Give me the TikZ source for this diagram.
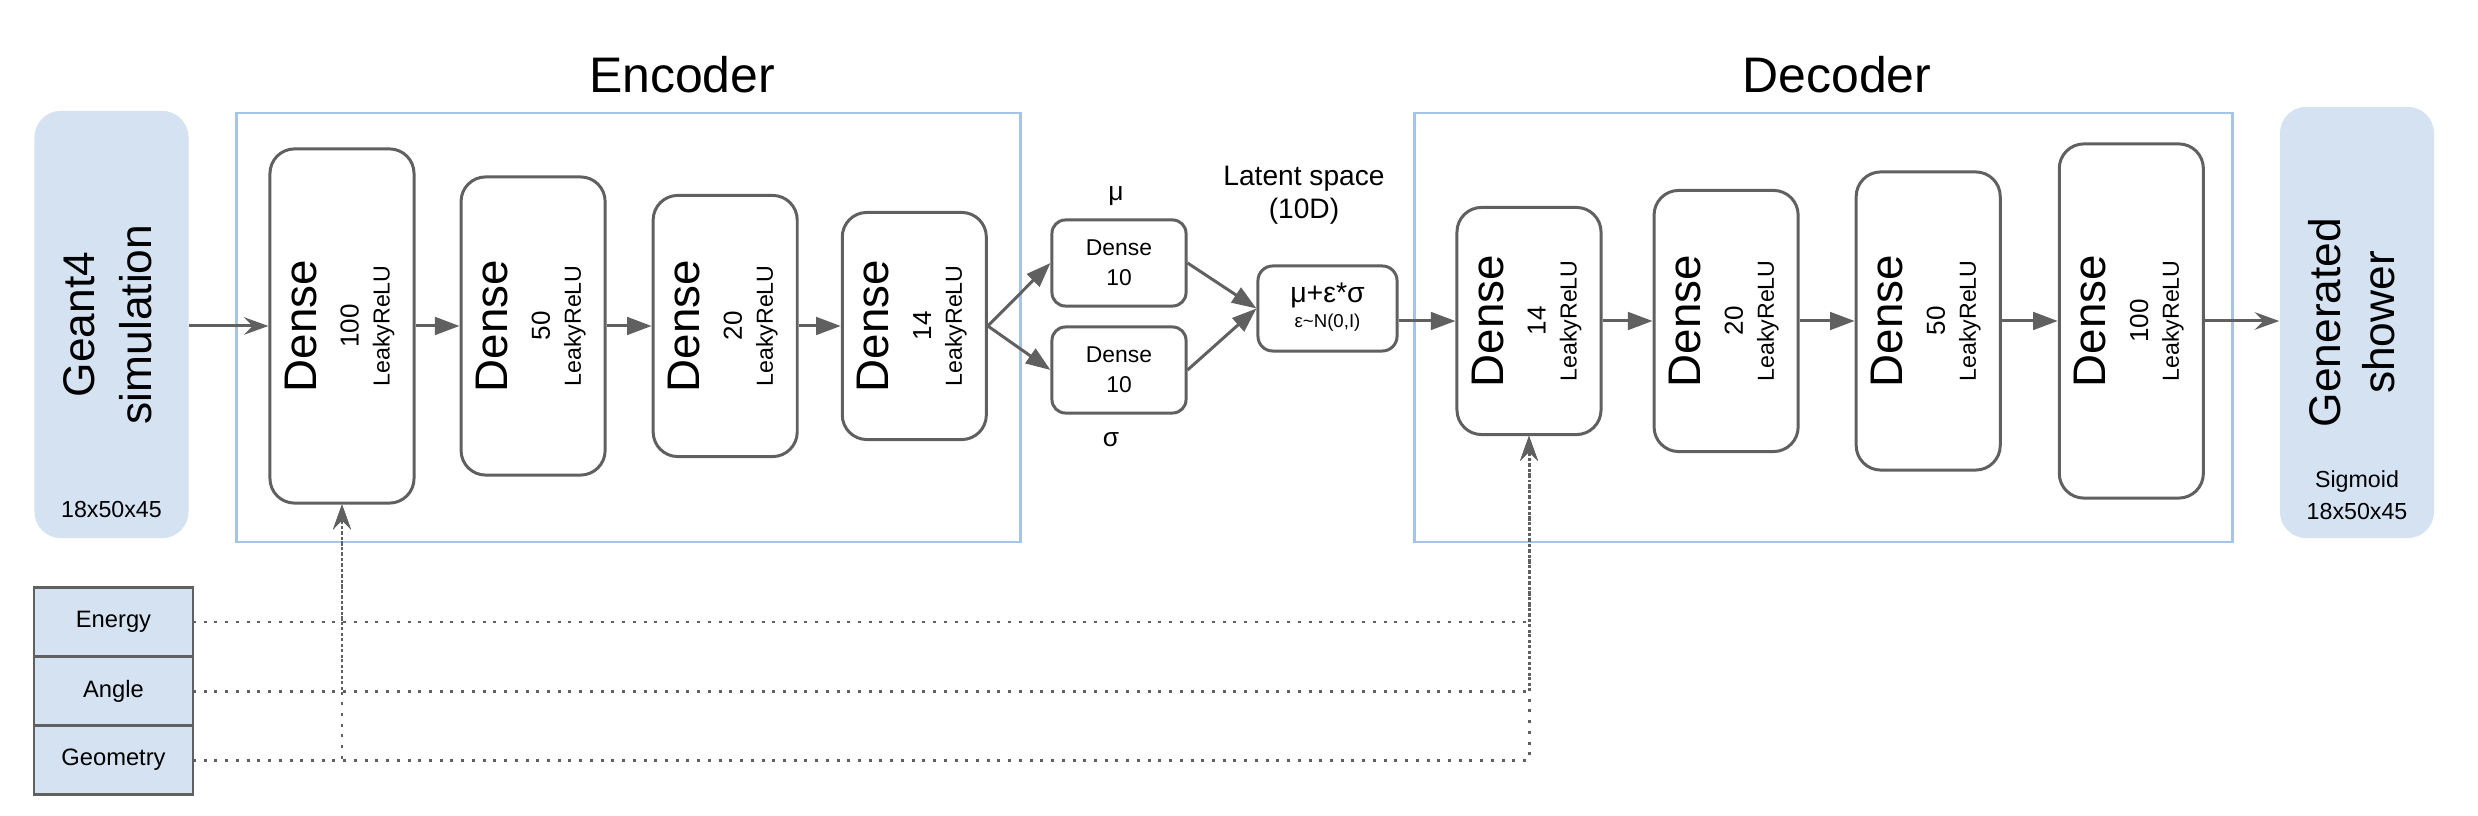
\documentclass[tikz,border=0pt]{standalone}
\usepackage{fontspec}
\setmainfont{Liberation Sans}
\usetikzlibrary{positioning,arrows.meta}

\definecolor{boxblue}{RGB}{212,226,241}
\definecolor{frameblue}{RGB}{166,196,230}
\definecolor{linegray}{RGB}{96,96,96}

% rotated text of one dense layer
\newcommand{\denselayer}[1]{\rotatebox{90}{\fontsize{7.4}{8.8}\selectfont
  \begin{tabular}{@{}c@{}}{\fontsize{13}{14}\selectfont Dense}\\[3.2pt]
  #1\\{\fontsize{6.6}{8}\selectfont LeakyReLU}\end{tabular}}}
\newcommand{\sidetext}[2]{\rotatebox{90}{\begin{tabular}{@{}c@{}}#1\\#2\end{tabular}}}

\begin{document}
\begin{tikzpicture}[x=0.01cm, y=-0.01cm,
  font=\fontsize{6.6}{8}\selectfont,
  layer/.style={rectangle, rounded corners=7pt, draw=linegray, line width=0.85pt,
                minimum width=1.44cm, inner sep=0pt, fill=white},
  small/.style={layer, rounded corners=3.8pt, minimum width=1.34cm, minimum height=0.86cm,
                align=center, font=\fontsize{6.5}{8.5}\selectfont},
  io/.style={rectangle, rounded corners=7.5pt, fill=boxblue, minimum width=1.54cm,
             inner sep=0pt, font=\fontsize{12.6}{16.2}\selectfont},
  cond/.style={rectangle, fill=boxblue, draw=linegray, line width=0.8pt, minimum width=1.59cm,
               minimum height=0.69cm, inner sep=0pt, outer sep=0pt, font=\fontsize{6.75}{8}\selectfont},
  frame/.style={rectangle, draw=frameblue, line width=0.75pt, minimum height=4.29cm, inner sep=0pt},
  title/.style={anchor=base, font=\fontsize{14.2}{17}\selectfont},
  flow/.style={-{Triangle[length=7pt,width=5pt]}, draw=linegray, line width=0.85pt},
  feed/.style={-{Stealth[length=7pt,width=5pt,inset=2.5pt]}, draw=linegray, line width=0.85pt},
  cnd/.style={-{Stealth[length=7pt,width=5pt,inset=2.5pt]}, draw=linegray, line width=0.85pt,
              dash pattern=on 0.85pt off 2.2pt}
]
\useasboundingbox (0,0) rectangle (2478,816);

% frames and titles
\node[frame, minimum width=7.83cm] (encf) at (628.5,327.5) {};
\node[frame, minimum width=8.17cm] (decf) at (1823.5,327.5) {};
\node[title] (enct) at (682,93) {Encoder};
\node[title] (dect) at (1837,93) {Decoder};

% input
\node[io, minimum height=4.27cm] (g4) at (111.5,324.5) {\sidetext{Geant4}{simulation}};
\node (g4dim) at (111.5,510) {18x50x45};

% encoder
\node[layer, minimum height=3.54cm] (e1) at (342,326) {\denselayer{100}};
\node[layer, minimum height=2.98cm, right=0.44cm of e1] (e2) {\denselayer{50}};
\node[layer, minimum height=2.61cm, right=0.45cm of e2] (e3) {\denselayer{20}};
\node[layer, minimum height=2.27cm, right=0.42cm of e3] (e4) {\denselayer{14}};

% latent space
\node[small] (mu) at (1119,263) {Dense\\10};
\node[small] (sg) at (1119,370) {Dense\\10};
\node[anchor=base, font=\fontsize{7.5}{9}\selectfont] (mul) at (1116,201) {μ};
\node[anchor=base, font=\fontsize{7.5}{9}\selectfont] (sgl) at (1111,447) {σ};
\node[align=center, font=\fontsize{8}{9.4}\selectfont] (lat) at (1304,195) {Latent space\\(10D)};
\node[small, minimum width=1.39cm, minimum height=0.85cm, rounded corners=4.2pt,
      font=\fontsize{5.3}{7.1}\selectfont] (rp) at (1327.5,308.5)
  {\begin{tabular}{@{}c@{}}{\fontsize{8.1}{9}\selectfont μ+ε*σ}\\ε\textasciitilde N(0,I)\end{tabular}};

% decoder
\node[layer, minimum height=2.27cm] (d1) at (1529,321) {\denselayer{14}};
\node[layer, minimum height=2.61cm, right=0.50cm of d1] (d2) {\denselayer{20}};
\node[layer, minimum height=2.98cm, right=0.55cm of d2] (d3) {\denselayer{50}};
\node[layer, minimum height=3.54cm, right=0.56cm of d3] (d4) {\denselayer{100}};

% output
\node[io, minimum height=4.31cm, font=\fontsize{12.6}{15.4}\selectfont] (gs) at (2357,322.5)
  {\sidetext{Generated}{shower}};
\node[align=center, font=\fontsize{6.6}{9.1}\selectfont] (gsdim) at (2357,495) {Sigmoid\\18x50x45};

% conditions
\node[cond] (en) at (113.5,622) {Energy};
\node[cond, below=0pt of en] (an) {Angle};
\node[cond, below=0pt of an] (ge) {Geometry};

% connectors
\draw[feed] (g4.east |- e1) -- (e1);
\draw[flow] (e1) -- (e2);
\draw[flow] (e2) -- (e3);
\draw[flow] (e3) -- (e4);
\draw[flow] (e4.east) -- (mu.west);
\draw[flow] (e4.east) -- (sg.west);
\draw[flow] (mu.east) -- (rp.west);
\draw[flow] (sg.east) -- (rp.west);
\draw[flow] (rp.east |- d1) -- (d1);
\draw[flow] (d1) -- (d2);
\draw[flow] (d2) -- (d3);
\draw[flow] (d3) -- (d4);
\draw[feed] (d4) -- (gs.west |- d4);
\foreach \c in {en,an,ge}{
  \draw[cnd] (\c.east) -| (e1.south);
  \draw[cnd] (\c.east) -| (d1.south);
}
\end{tikzpicture}
\end{document}
